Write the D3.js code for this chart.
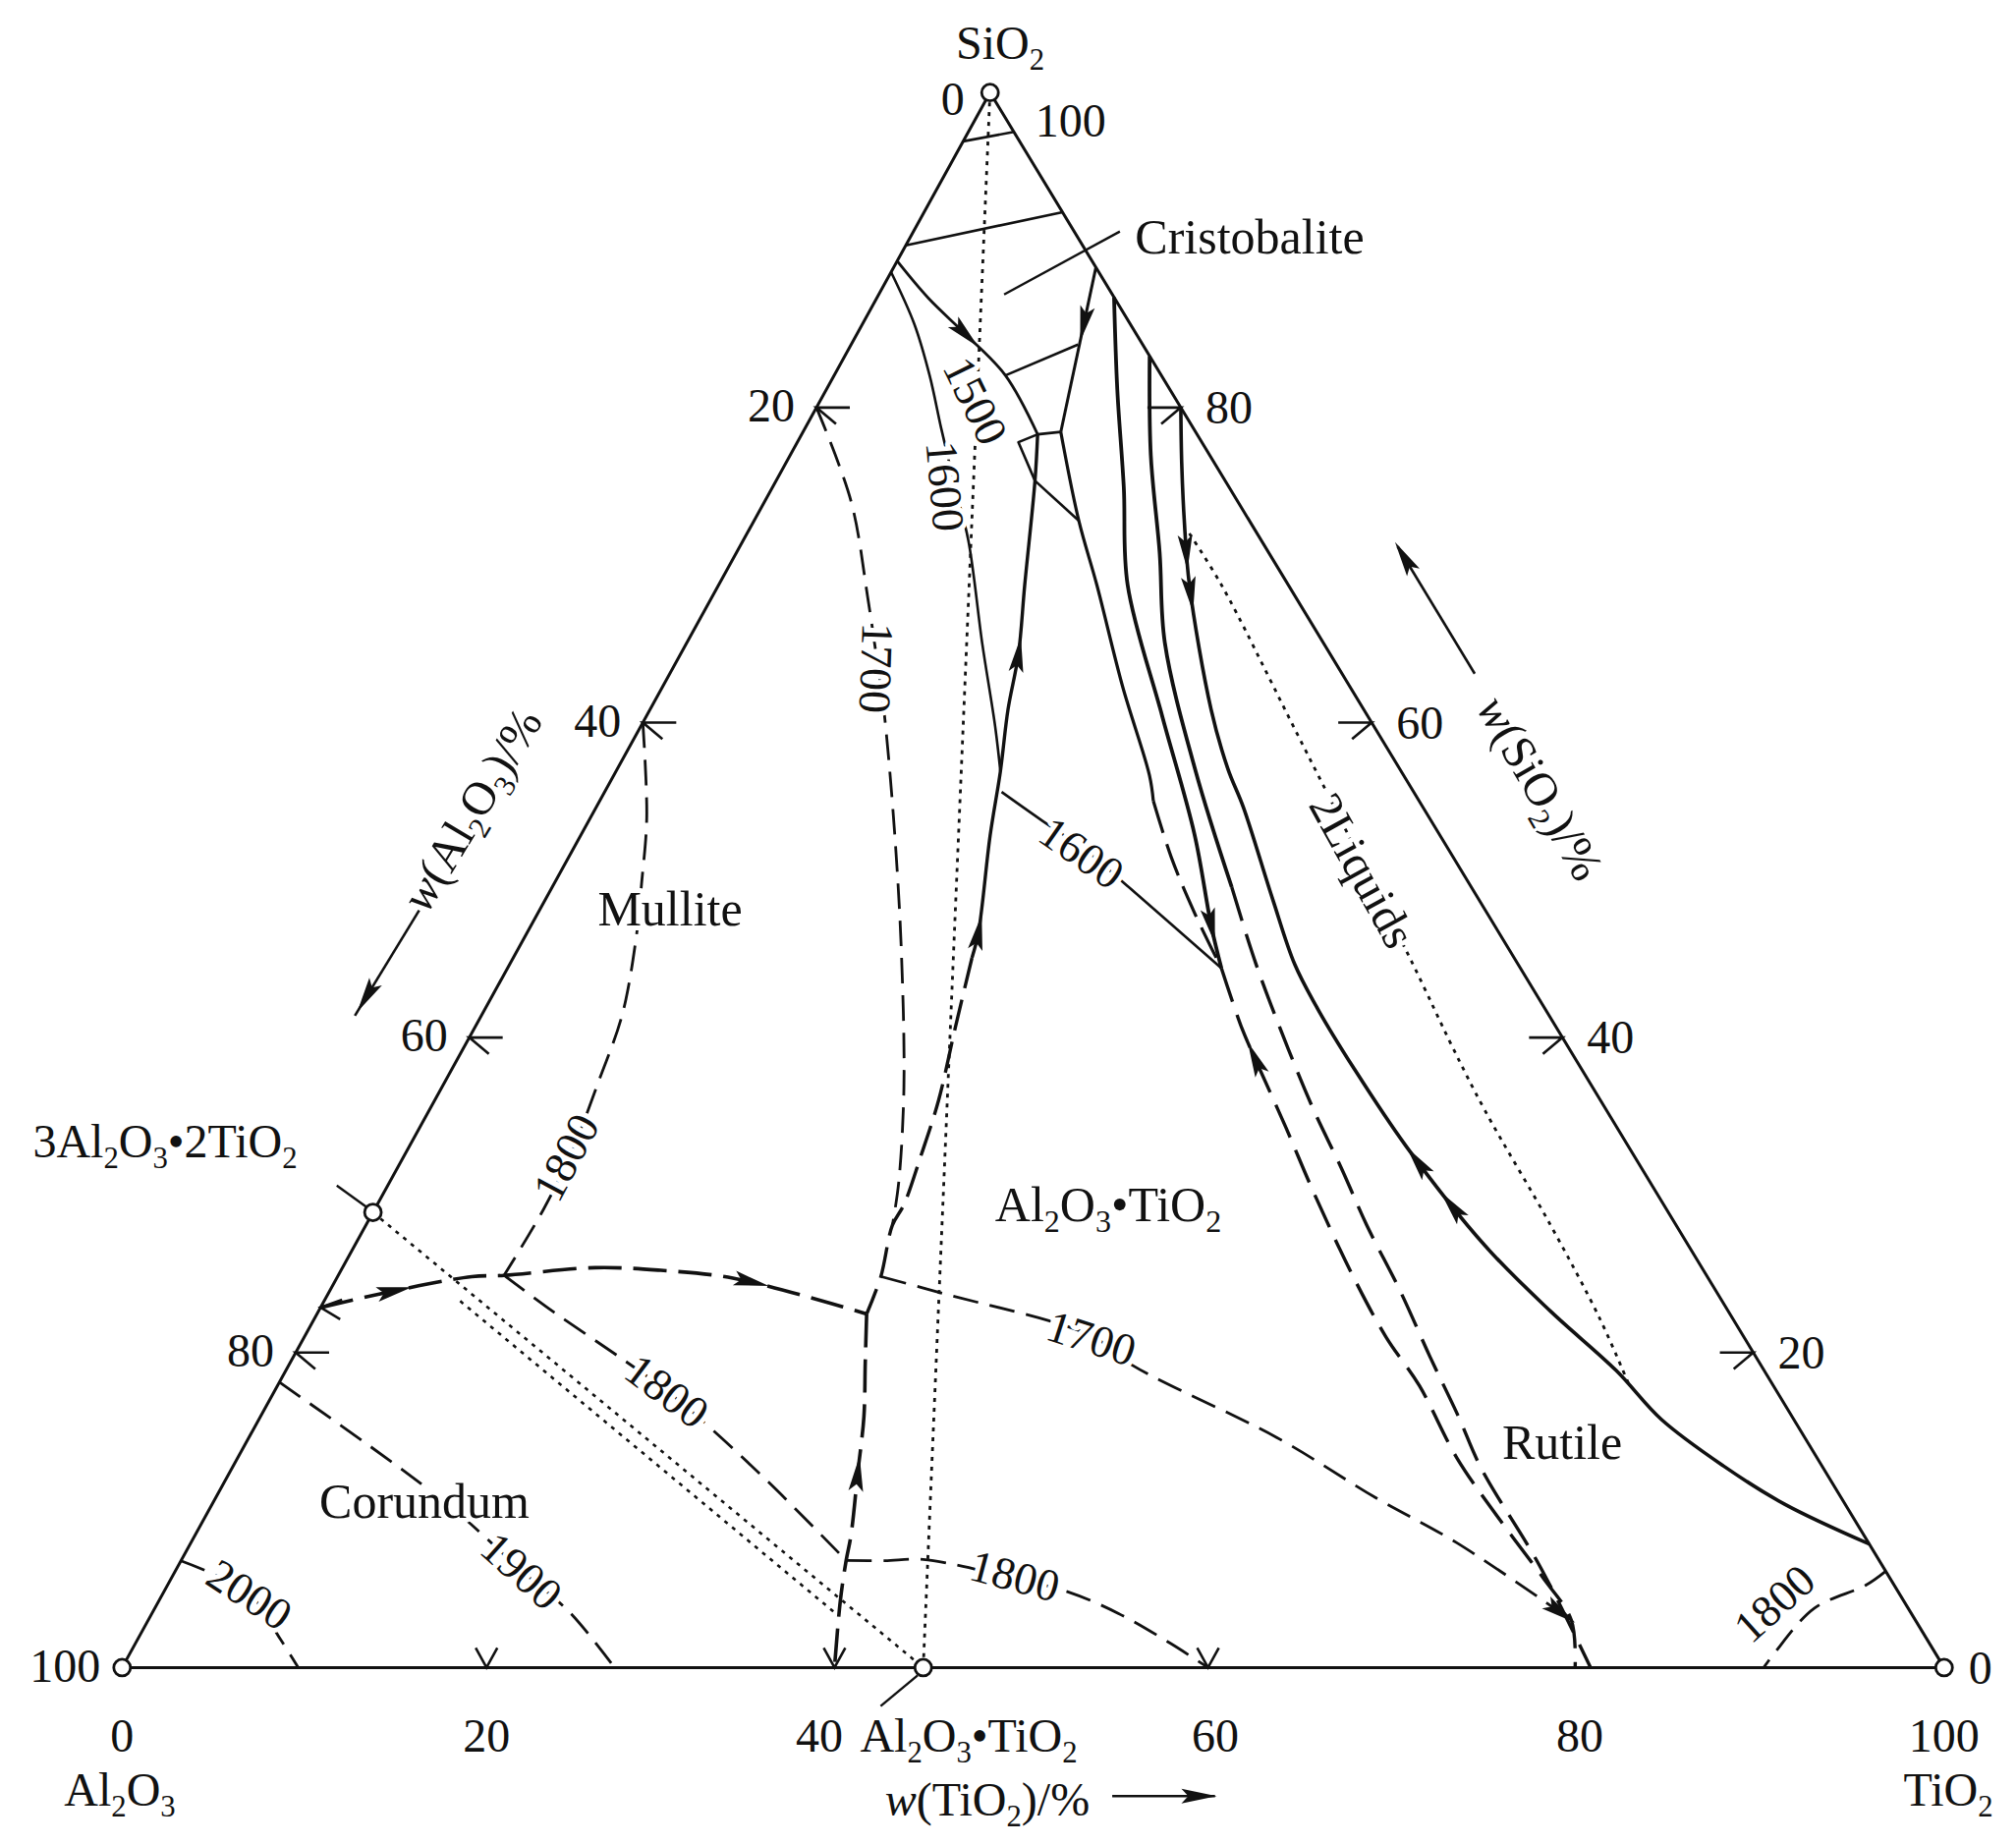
<!DOCTYPE html>
<html><head><meta charset="utf-8">
<script src="https://cdn.jsdelivr.net/npm/d3@7"></script>
<style>
body{margin:0;background:#fff;}
svg text{font-family:"Liberation Serif","DejaVu Serif",serif;fill:#111;}
</style></head><body>
<svg id="chart" width="2052" height="1877"></svg>
<script>
// ===== DATA: compositions in wt% as [TiO2, SiO2]; Al2O3 = 100 - TiO2 - SiO2 =====
const compounds = [[0,0],[100,0],[0,100],[0,28.9],[43.97,0]]; // Al2O3, TiO2, SiO2, 3Al2O3·2TiO2(mullite pt), Al2O3·TiO2
const leftTicks = [0,20,40,60,80,100];     // w(Al2O3) %
const rightTicks = [100,80,60,40,20,0];    // w(SiO2) %
const bottomTicks = [0,20,40,60,80,100];   // w(TiO2) %
const leftChevrons = [20,40,60,80];        // Al2O3 %
const rightChevrons = [80,60,40,20];       // SiO2 %
const baseMarks = [20,39.1,59.6];          // TiO2 %

// solid liquidus / boundary lines
const apexLine = [[0,96.9],[2.5,97.5]];
const topLine = [[0,90.3],[7.6,92.4]];
const line1500 = [[0,89.3],[2.84,86.94],[5.97,84.65],[9.4,82.04],[12.95,78.3]];
const junctionLink = [[12.95,78.3],[14.15,78.45]];
const cristobaliteBoundary = [[11.1,88.9],[14.15,78.45]];
const cristobaliteIso = [[9.4,82.04],[12.45,84.0]];
const smallTriangle = [[12.95,78.3],[12.13,77.8],[14.21,75.35]];
const link2 = [[14.21,75.35],[17.82,72.82]];
const iso1600a = [[0,88.6],[2.84,85.31],[5.24,82.04],[7.47,78.69],[9.85,75.18],[12.34,71.59],[16.26,64.98],[19.45,59.76],[21.1,56.9]];
const iso1600b = [[21.79,55.59],[24.83,53.8],[28.24,51.84],[31.65,49.55],[39.18,44.41]];
const mulliteATsolid = [[12.95,78.3],[14.21,75.35],[16.8,68.73],[18.55,64.33],[19.65,60.82],[21.1,56.9],[22.48,52.82],[24.76,46.69],[25.18,45.06]];
const mulliteATdashed = [[25.18,45.06],[26.37,40.65],[27.66,36.0],[28.38,32.41],[28.91,29.39],[28.9,28.08],[29.82,24.82],[30.17,22.45]];
const curveAsolid = [[14.15,78.45],[17.82,72.82],[20.76,68.73],[25.24,62.29],[29.4,56.65],[30.39,55.02]];
const curveAdashed = [[30.39,55.02],[33.09,51.43],[36.03,47.92],[39.18,44.41]];
const curveC = [[13.0,87.0],[15.97,81.14],[19.28,74.94],[22.45,68.73],[28.31,60.41],[33.66,52.9],[37.34,47.1],[39.18,44.41]];
const curveDsolid = [[16.73,83.27],[19.79,76.98],[23.23,70.78],[26.24,65.06],[31.82,56.9],[37.3,49.55]];
const rutileR = [[37.3,49.55],[40.97,44.65],[45.3,39.27],[48.58,35.35],[51.77,31.76],[54.94,28.08],[58.75,23.92],[62.36,19.76],[65.7,16.0],[68.57,12.65],[74.66,6.53],[80.6,0]];
const rutileL = [[39.18,44.41],[42.14,40.57],[43.74,38.69],[47.54,34.29],[51.07,30.12],[55.83,24.73],[59.38,20.98],[62.69,17.88],[66.92,13.31],[70.96,9.55],[75.26,5.71],[78.1,3.02],[79.75,0]];
const curveE = [[20,80],[21.72,76.49],[23.61,72.82],[25.84,68.73],[30.8,60.82],[33.51,57.06],[35.53,54.61],[39.95,48.73],[43.09,44.65],[45.72,41.8],[49.49,38.04],[54.75,33.06],[62.05,26.78],[67.64,22.61],[73.02,18.86],[76.97,15.76],[81.76,12.82],[86.31,10.37],[92.16,7.84]];
const liquidsTie = [[24.28,72.0],[27.6,68.73],[35.82,59.76],[49.58,44.65],[54.15,39.51],[57.97,35.35],[65.03,28.08],[70.51,22.2],[74.2,17.9]];

// dashed isotherms and boundaries
const iso1700L = [[0,80],[4.74,74.04],[8.62,67.84],[11.28,63.43],[13.07,60.41],[17.25,52.82],[21.11,45.47],[25.37,36.82],[27.96,30.78],[28.9,28.08]];
const iso1700R = [[29.85,24.82],[33.71,23.76],[43.18,21.06],[46.33,19.18],[56.41,14.61],[63.67,10.78],[69.48,7.92],[78.1,3.02]];
const iso1800M = [[0,60],[3.09,53.96],[4.79,49.8],[6.1,46.45],[7.7,41.47],[8.41,37.31],[9.07,32.82],[9.27,29.14],[9.1,24.9]];
const mulliteCorundum = [[0,22.86],[3.56,23.92],[7.37,24.82],[9.1,24.9],[13.87,25.39],[17.55,25.22],[21.74,24.73],[27.95,23.1],[30.17,22.45]];
const corundumAT = [[30.17,22.45],[31.57,19.35],[33.13,15.92],[34.5,12.33],[36.0,8.41],[36.5,6.8],[37.4,4.24],[39.1,0]];
const iso1800C = [[9.1,24.9],[12.87,22.61],[18.12,19.59],[21.56,17.55],[25.09,15.18],[30.12,11.59],[36.5,6.8]];
const iso1800AT = [[36.5,6.8],[38.62,6.78],[40.7,6.86],[46.37,5.63],[49.58,4.82],[53.06,3.43],[56.78,1.55],[59.6,0]];
const iso1800T = [[93.88,6.12],[93.2,5.22],[91.08,3.76],[90.25,0.9],[90.1,0]];
const iso1900 = [[0,18.12],[9.51,12.49],[14.15,9.55],[19.03,6.12],[22.89,3.51],[27.03,0]];
const iso2000 = [[0,6.78],[4.77,4.65],[7.83,1.8],[9.67,0]];

// dotted joins
const joinSiO2AT = [[0,100],[43.97,0]];
const joinMulliteAT = [[0,28.9],[43.97,0]];
const joinMulliteAT2 = [[7.47,23.27],[37.54,3.43]];

// leaders and axis arrows (annotation)
const leaderCristobalite = [[11.33,91.18],[6.88,87.18]];
const leaderMullite = [[-2.8,30.61],[-0.45,29.2]];
const leaderAT = [[43.9,-0.5],[42.8,-2.45]];
const arrowAl2O3 = [[-6.6,48.08],[-6.94,41.39]];
const arrowSiO2 = [[44.18,63.1],[36.1,71.18]];
const arrowTiO2 = [[58.23,-8.16],[63.87,-8.16]];

// ===== SCALES: ternary projection built from linear scales =====
const A = {x:124.3, y:1697.4}, T = {x:1978.8, y:1697.4}, S = {x:1007.7, y:94.2};
const tiX = d3.scaleLinear().domain([0,100]).range([A.x, T.x]);
const siY = d3.scaleLinear().domain([0,100]).range([A.y, S.y]);
const siDX = d3.scaleLinear().domain([0,100]).range([0, S.x - A.x]);
const proj = ([ti, si]) => [tiX(ti) + siDX(si), siY(si)];

const svg = d3.select('#chart');
svg.append('rect').attr('width',2052).attr('height',1877).attr('fill','#fff');

const smooth = d3.line().x(d=>proj(d)[0]).y(d=>proj(d)[1]).curve(d3.curveCatmullRom.alpha(0.5));
const straight = d3.line().x(d=>proj(d)[0]).y(d=>proj(d)[1]);

const gL = svg.append('g').attr('fill','none').attr('stroke','#111').attr('stroke-linejoin','round');
const paths = {};
function draw(id, data, w, dash, isStraight){
  const p = gL.append('path').attr('d', (isStraight?straight:smooth)(data)).attr('stroke-width', w);
  if (dash) p.attr('stroke-dasharray', dash);
  paths[id] = p.node();
  return p;
}

// dotted
draw('joinSAT', joinSiO2AT, 2.8, '4,6', true);
draw('joinMAT', joinMulliteAT, 2.6, '4,6', true);
draw('joinMAT2', joinMulliteAT2, 2.6, '4,6', true);
draw('liq', liquidsTie, 2.8, '4,6');
// dashed isotherms
draw('i1700L', iso1700L, 2.8, '26,12');
draw('i1700R', iso1700R, 2.8, '26,12');
draw('i1800M', iso1800M, 2.8, '26,12');
draw('i1800C', iso1800C, 2.8, '26,12');
draw('i1800AT', iso1800AT, 2.8, '26,12');
draw('i1800T', iso1800T, 2.8, '26,12');
draw('i1900', iso1900, 2.8, '26,12');
draw('i2000', iso2000, 2.8, '26,12');
// dashed boundaries
draw('mc', mulliteCorundum, 3.6, '34,12');
draw('ca', corundumAT, 3.6, '34,12');
draw('matD', mulliteATdashed, 3.4, '32,12');
draw('aD', curveAdashed, 3.2, '34,12');
draw('rR', rutileR, 3.4, '36,14');
draw('rL', rutileL, 3.4, '36,14');
// solid
draw('apex', apexLine, 2.6, null, true);
draw('top', topLine, 2.6, null, true);
draw('l1500', line1500, 2.8);
draw('jl', junctionLink, 2.8, null, true);
draw('cb', cristobaliteBoundary, 3.0, null, true);
draw('ci', cristobaliteIso, 2.6, null, true);
draw('tri', smallTriangle, 2.6, null, true);
draw('l2', link2, 2.6, null, true);
draw('i1600a', iso1600a, 2.6);
draw('i1600b', iso1600b, 2.6);
draw('matS', mulliteATsolid, 3.4);
draw('aS', curveAsolid, 3.2);
draw('c', curveC, 3.8);
draw('d', curveDsolid, 3.8);
draw('e', curveE, 3.6);
// leaders
draw('lc', leaderCristobalite, 2.4, null, true);
draw('lm', leaderMullite, 2.4, null, true);
draw('lat', leaderAT, 2.4, null, true);
draw('axA', arrowAl2O3, 2.6, null, true);
draw('axS', arrowSiO2, 2.6, null, true);
draw('axT', arrowTiO2, 2.6, null, true);

// triangle frame
gL.append('path').attr('d', straight([[0,0],[100,0],[0,100]]) + 'Z').attr('stroke-width', 3.0);

// chevron ticks
const gT = svg.append('g').attr('fill','none').attr('stroke','#111').attr('stroke-width',2.6);
const c40 = Math.cos(40*Math.PI/180), s40 = Math.sin(40*Math.PI/180);
leftChevrons.forEach(v=>{ const [x,y]=proj([0,100-v]);
  gT.append('path').attr('d',`M${x+34},${y}L${x},${y}L${x+26*c40},${y+26*s40}`); });
gT.append('path').attr('d',(()=>{const [x,y]=proj(mulliteCorundum[0]);return `M${x+22},${y-8}L${x},${y}L${x+20},${y+12}`;})());
rightChevrons.forEach(v=>{ const [x,y]=proj([100-v,v]);
  gT.append('path').attr('d',`M${x-34},${y}L${x},${y}L${x-26*c40},${y+26*s40}`); });
baseMarks.forEach(v=>{ const [x,y]=proj([v,0]);
  gT.append('path').attr('d',`M${x-11},${y-20}L${x},${y}L${x+11},${y-20}`); });

// arrowheads
const arrows = [
  {p:'l1500', at:[5.97,84.65], dir:1},
  {p:'cb', at:[12.2,85.3], dir:1},
  {p:'matS', at:[18.55,64.33], dir:-1},
  {p:'matS', at:[24.76,46.69], dir:-1},
  {p:'c', at:[37.34,47.1], dir:1},
  {p:'e', at:[24.71,70.78], dir:1},
  {p:'e', at:[26.18,68.16], dir:1},
  {p:'e', at:[55.85,32.24], dir:-1},
  {p:'e', at:[59.01,29.31], dir:-1},
  {p:'rL', at:[43.74,38.69], dir:-1},
  {p:'i1700R', at:[77.3,3.45], dir:1},
  {p:'mc', at:[3.56,23.92], dir:1},
  {p:'mc', at:[22.91,24.49], dir:1},
  {p:'ca', at:[34.5,12.33], dir:-1},
  {p:'axA', at:[-6.9,42.6], dir:1},
  {p:'axS', at:[36.8,70.5], dir:1},
  {p:'axT', at:[63.0,-8.16], dir:1}
];
const gA = svg.append('g').attr('fill','#111');
arrows.forEach(a=>{
  const node = paths[a.p]; const L = node.getTotalLength();
  const [tx,ty] = proj(a.at); let best=0, bd=1e12;
  for (let i=0;i<=600;i++){ const l=L*i/600; const q=node.getPointAtLength(l); const dd=(q.x-tx)**2+(q.y-ty)**2; if(dd<bd){bd=dd;best=l;} }
  const q1=node.getPointAtLength(Math.max(0,best-4)), q2=node.getPointAtLength(Math.min(L,best+4));
  let ang=Math.atan2(q2.y-q1.y,q2.x-q1.x); if(a.dir<0) ang+=Math.PI;
  const c=node.getPointAtLength(best); const len=36, hw=7.5;
  const ux=Math.cos(ang), uy=Math.sin(ang);
  const tip=[c.x+ux*len/2, c.y+uy*len/2], b=[c.x-ux*len/2, c.y-uy*len/2];
  gA.append('path').attr('d',`M${tip[0]},${tip[1]}L${b[0]-uy*hw},${b[1]+ux*hw}L${b[0]+ux*7},${b[1]+uy*7}L${b[0]+uy*hw},${b[1]-ux*hw}Z`);
});

// compound points
svg.append('g').selectAll('circle').data(compounds).join('circle')
  .attr('cx',d=>proj(d)[0]).attr('cy',d=>proj(d)[1]).attr('r',8.5)
  .attr('fill','#fff').attr('stroke','#111').attr('stroke-width',2.8);

// ===== TEXT =====
function rich(g, str, x, y, size, opts={}){
  const t = g.append('text').attr('font-size', size).attr('text-anchor', opts.anchor||'middle');
  const base = y + 0.34*size;
  if (opts.rot) t.attr('transform', `rotate(${opts.rot},${x},${y})`);
  t.attr('x', x).attr('y', base);
  if (opts.halo) t.attr('stroke','#fff').attr('stroke-width',10).attr('paint-order','stroke').attr('stroke-linejoin','round');
  const parts=[]; let buf=''; let i=0;
  while(i<str.length){ const ch=str[i];
    if(ch==='_'){ if(buf)parts.push({t:buf}); buf=''; parts.push({t:str[i+1],sub:true}); i+=2; continue; }
    if(ch==='*'){ if(buf)parts.push({t:buf}); buf=''; const j=str.indexOf('*',i+1); parts.push({t:str.slice(i+1,j),it:true}); i=j+1; continue; }
    buf+=ch; i++; }
  if(buf)parts.push({t:buf});
  let low=false; const d=size*0.22;
  parts.forEach(p=>{ const ts=t.append('tspan').text(p.t);
    if(p.sub){ ts.attr('font-size', size*0.64); if(!low){ ts.attr('dy', d); low=true; } }
    else { if(low){ ts.attr('dy', -d); low=false; } }
    if(p.it) ts.attr('font-style','italic');
  });
  return t;
}
const gX = svg.append('g');
// tick labels
leftTicks.forEach(v=>{ const [x,y]=proj([0,100-v]); const ap = v===0; rich(gX, String(v), x-(ap?26:22), y+(ap?6:-2), 48, {anchor:'end'}); });
rightTicks.forEach(v=>{ const [x,y]=proj([100-v,v]); const ap = v===100; rich(gX, String(v), x+(ap?46:25), y+(ap?28:0), 48, {anchor:'start'}); });
bottomTicks.forEach(v=>{ const [x,y]=proj([v,0]); rich(gX, String(v), x+(v===40?-32:0), y+69, 48); });
// vertex & compound names
rich(gX, 'SiO_2', 1018, 44, 48);
rich(gX, 'Al_2O_3', 122, 1822, 48);
rich(gX, 'TiO_2', 1983, 1822, 48);
rich(gX, 'Al_2O_3•TiO_2', 986, 1767, 48);
rich(gX, '3Al_2O_3•2TiO_2', 168, 1162, 48);
// axis titles
rich(gX, '*w*(TiO_2)/%', 1005, 1832, 48);
rich(gX, '*w*(Al_2O_3)/%', 480, 824, 48, {rot:-59});
rich(gX, '*w*(SiO_2)/%', 1568, 802, 48, {rot:60});
// field labels
rich(gX, 'Cristobalite', 1272, 241, 50, {halo:true});
rich(gX, 'Mullite', 682, 925, 50, {halo:true});
rich(gX, 'Al_2O_3•TiO_2', 1128, 1226, 50, {halo:true});
rich(gX, 'Corundum', 432, 1528, 50, {halo:true});
rich(gX, 'Rutile', 1590, 1468, 50, {halo:true});
rich(gX, '2Liquids', 1387, 886, 48, {halo:true, rot:61});
// isotherm labels
const isoLabels = [
  ['1500', 993, 408, 64], ['1600', 962, 495, 85], ['1700', 892, 680, 92],
  ['1600', 1101, 868, 35], ['1800', 576, 1178, -62], ['1800', 679, 1416, 37],
  ['1700', 1111, 1362, 18], ['1900', 531, 1599, 42], ['2000', 254, 1623, 33],
  ['1800', 1033, 1604, 15], ['1800', 1806, 1632, -42]
];
isoLabels.forEach(([s,x,y,r])=> rich(gX, s, x, y, 46, {halo:true, rot:r}));
</script>
</body></html>
